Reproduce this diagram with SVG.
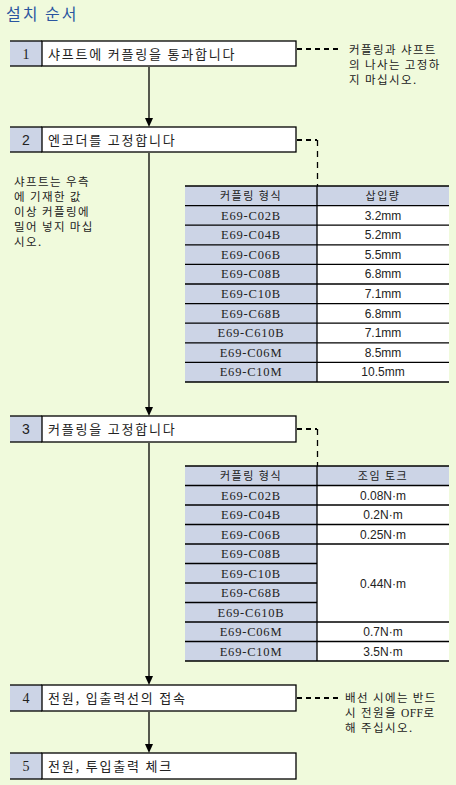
<svg xmlns="http://www.w3.org/2000/svg" width="456" height="785" viewBox="0 0 456 785">
<style>
.ko{font-family:"Noto Sans CJK KR","Noto Sans",sans-serif;fill:#222}
.bt{font-size:13px;letter-spacing:1.8px}
.nt{font-size:11.5px;letter-spacing:1.4px}
.ser{font-family:"Liberation Serif","Noto Sans CJK KR",serif;fill:#222}
.san{font-family:"Liberation Sans","Noto Sans CJK KR",sans-serif;fill:#222}
.num{font-size:14px;text-anchor:middle}
.cell{text-anchor:middle}
.hd{font-size:11px;letter-spacing:1.5px}
.mdl{font-size:12.5px;letter-spacing:0.8px}
.box{fill:#fff;stroke:#000;stroke-width:1.3}
.nc{fill:#ccd4e6}
.ln{stroke:#000;stroke-width:1.3}
.lav{fill:#ccd4e6}
.wh{fill:#fff}
.dh{stroke:#000;stroke-width:2;stroke-dasharray:5 4;fill:none}
.dv{stroke:#000;stroke-width:1.3;stroke-dasharray:6 5;fill:none}
</style>
<rect width="456" height="785" fill="#f0fadc"/>
<text x="6" y="20" font-family="'Noto Sans CJK KR',sans-serif" font-size="16" letter-spacing="2" fill="#2a55a0">설치 순서</text>

<g id="connectors">
<line x1="149" y1="67" x2="149" y2="119" class="ln"/>
<path d="M145,118 L153,118 L149,127 Z"/>
<line x1="149" y1="153" x2="149" y2="408" class="ln"/>
<path d="M145,407 L153,407 L149,416 Z"/>
<line x1="149" y1="443" x2="149" y2="677" class="ln"/>
<path d="M145,676 L153,676 L149,685 Z"/>
<line x1="149" y1="712" x2="149" y2="745" class="ln"/>
<path d="M145,744 L153,744 L149,753 Z"/>
<line x1="297" y1="49" x2="340" y2="49" class="dh"/>
<path d="M297,140 L317,140" class="dh"/>
<path d="M317.5,140 L317.5,186" class="dv"/>
<path d="M297,429 L317,429" class="dh"/>
<path d="M317.5,429 L317.5,466" class="dv"/>
<line x1="297" y1="698" x2="339" y2="698" class="dh"/>
</g>

<g id="step1">
<rect x="10" y="41" width="32" height="25" class="nc"/>
<line x1="10" y1="41" x2="42" y2="41" class="ln"/><line x1="10" y1="66" x2="42" y2="66" class="ln"/>
<rect x="42" y="41" width="254" height="25" class="box"/>
<text x="26" y="59" class="ser num">1</text>
<text x="48" y="59" class="ko bt">샤프트에 커플링을 통과합니다</text>
</g>
<g id="note1" class="ko nt">
<text x="349" y="54">커플링과 샤프트</text>
<text x="349" y="69">의 나사는 고정하</text>
<text x="349" y="84">지 마십시오.</text>
</g>

<g id="step2">
<rect x="10" y="127" width="32" height="25" class="nc"/>
<line x1="10" y1="127" x2="42" y2="127" class="ln"/><line x1="10" y1="152" x2="42" y2="152" class="ln"/>
<rect x="42" y="127" width="254" height="25" class="box"/>
<text x="26" y="145" class="san num">2</text>
<text x="48" y="145" class="ko bt">엔코더를 고정합니다</text>
</g>
<g id="note2" class="ko nt">
<text x="14" y="186">샤프트는 우측</text>
<text x="14" y="201">에 기재한 값</text>
<text x="14" y="216">이상 커플링에</text>
<text x="14" y="231">밀어 넣지 마십</text>
<text x="14" y="246">시오.</text>
</g>

<g id="table1">
<rect x="185" y="186" width="264" height="19.6" class="lav"/>
<rect x="185" y="205.6" width="132" height="176.4" class="lav"/>
<rect x="317" y="205.6" width="132" height="176.4" class="wh"/>
<g class="ln">
<line x1="185" y1="186" x2="449" y2="186"/>
<line x1="185" y1="205.6" x2="449" y2="205.6"/>
<line x1="185" y1="225.2" x2="449" y2="225.2"/>
<line x1="185" y1="244.8" x2="449" y2="244.8"/>
<line x1="185" y1="264.4" x2="449" y2="264.4"/>
<line x1="185" y1="284" x2="449" y2="284"/>
<line x1="185" y1="303.6" x2="449" y2="303.6"/>
<line x1="185" y1="323.2" x2="449" y2="323.2"/>
<line x1="185" y1="342.8" x2="449" y2="342.8"/>
<line x1="185" y1="362.4" x2="449" y2="362.4"/>
<line x1="185" y1="382" x2="449" y2="382"/>
<line x1="317" y1="186" x2="317" y2="382"/>
</g>
<g class="ko cell hd">
<text x="251" y="200">커플링 형식</text>
<text x="383" y="200">삽입량</text>
</g>
<g class="ser cell mdl">
<text x="251" y="219.6">E69-C02B</text>
<text x="251" y="239.2">E69-C04B</text>
<text x="251" y="258.8">E69-C06B</text>
<text x="251" y="278.4">E69-C08B</text>
<text x="251" y="298">E69-C10B</text>
<text x="251" y="317.6">E69-C68B</text>
<text x="251" y="337.2">E69-C610B</text>
<text x="251" y="356.8">E69-C06M</text>
<text x="251" y="376.4">E69-C10M</text>
</g>
<g class="san cell" font-size="12">
<text x="383" y="219.6">3.2mm</text>
<text x="383" y="239.2">5.2mm</text>
<text x="383" y="258.8">5.5mm</text>
<text x="383" y="278.4">6.8mm</text>
<text x="383" y="298">7.1mm</text>
<text x="383" y="317.6">6.8mm</text>
<text x="383" y="337.2">7.1mm</text>
<text x="383" y="356.8">8.5mm</text>
<text x="383" y="376.4">10.5mm</text>
</g>
</g>

<g id="step3">
<rect x="10" y="416" width="32" height="26" class="nc"/>
<line x1="10" y1="416" x2="42" y2="416" class="ln"/><line x1="10" y1="442" x2="42" y2="442" class="ln"/>
<rect x="42" y="416" width="254" height="26" class="box"/>
<text x="26" y="434" class="san num">3</text>
<text x="48" y="434" class="ko bt">커플링을 고정합니다</text>
</g>

<g id="table2">
<rect x="185" y="466" width="264" height="19.5" class="lav"/>
<rect x="185" y="485.5" width="132" height="175.5" class="lav"/>
<rect x="317" y="485.5" width="132" height="175.5" class="wh"/>
<g class="ln">
<line x1="185" y1="466" x2="449" y2="466"/>
<line x1="185" y1="485.5" x2="449" y2="485.5"/>
<line x1="185" y1="505" x2="449" y2="505"/>
<line x1="185" y1="524.5" x2="449" y2="524.5"/>
<line x1="185" y1="544" x2="449" y2="544"/>
<line x1="185" y1="563.5" x2="317" y2="563.5"/>
<line x1="185" y1="583" x2="317" y2="583"/>
<line x1="185" y1="602.5" x2="317" y2="602.5"/>
<line x1="185" y1="622" x2="449" y2="622"/>
<line x1="185" y1="641.5" x2="449" y2="641.5"/>
<line x1="185" y1="661" x2="449" y2="661"/>
<line x1="317" y1="466" x2="317" y2="661"/>
</g>
<g class="ko cell hd">
<text x="251" y="480">커플링 형식</text>
<text x="383" y="480">조임 토크</text>
</g>
<g class="ser cell mdl">
<text x="251" y="499.5">E69-C02B</text>
<text x="251" y="519">E69-C04B</text>
<text x="251" y="538.5">E69-C06B</text>
<text x="251" y="558">E69-C08B</text>
<text x="251" y="577.5">E69-C10B</text>
<text x="251" y="597">E69-C68B</text>
<text x="251" y="616.5">E69-C610B</text>
<text x="251" y="636">E69-C06M</text>
<text x="251" y="655.5">E69-C10M</text>
</g>
<g class="san cell" font-size="12">
<text x="383" y="499.5">0.08N·m</text>
<text x="383" y="519">0.2N·m</text>
<text x="383" y="538.5">0.25N·m</text>
<text x="383" y="587.5">0.44N·m</text>
<text x="383" y="636">0.7N·m</text>
<text x="383" y="655.5">3.5N·m</text>
</g>
</g>

<g id="step4">
<rect x="10" y="685" width="32" height="26" class="nc"/>
<line x1="10" y1="685" x2="42" y2="685" class="ln"/><line x1="10" y1="711" x2="42" y2="711" class="ln"/>
<rect x="42" y="685" width="254" height="26" class="box"/>
<text x="26" y="703" class="ser num">4</text>
<text x="48" y="703" class="ko bt">전원, 입출력선의 접속</text>
</g>
<g id="note4" class="ko nt">
<text x="345" y="702">배선 시에는 반드</text>
<text x="345" y="717">시 전원을 <tspan font-family="'Liberation Serif',serif" letter-spacing="0.5">OFF</tspan>로</text>
<text x="345" y="732">해 주십시오.</text>
</g>

<g id="step5">
<rect x="10" y="753" width="32" height="26" class="nc"/>
<line x1="10" y1="753" x2="42" y2="753" class="ln"/><line x1="10" y1="779" x2="42" y2="779" class="ln"/>
<rect x="42" y="753" width="254" height="26" class="box"/>
<text x="26" y="771" class="ser num">5</text>
<text x="48" y="771" class="ko bt">전원, 투입출력 체크</text>
</g>
</svg>
